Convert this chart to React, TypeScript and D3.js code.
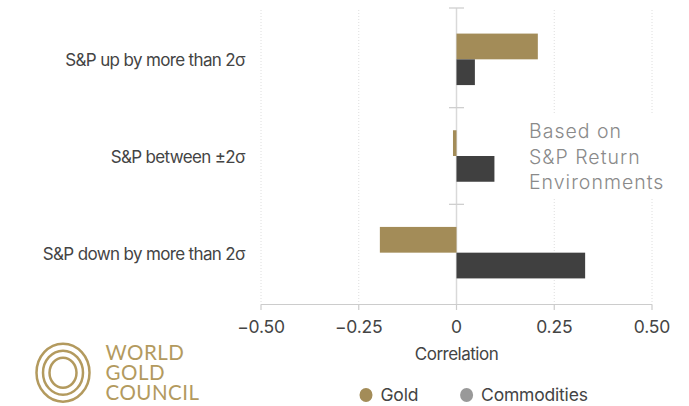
import React from "react";
import * as d3 from "d3";

const categories = ["S&P up by more than 2σ", "S&P between ±2σ", "S&P down by more than 2σ"];
const goldValues = [0.208, -0.009, -0.196];
const commodityValues = [0.047, 0.097, 0.329];
const xTicks = [-0.5, -0.25, 0, 0.25, 0.5];
const xTickLabels = ["−0.50", "−0.25", "0", "0.25", "0.50"];
const seriesNames = ["Gold", "Commodities"];
const annotationLines = ["Based on", "S&P Return", "Environments"];
const logoLines = ["WORLD", "GOLD", "COUNCIL"];

const W = 689;
const H = 406;
const GOLD = "#a38c58";
const DARK = "#404040";
const LEGEND_GRAY = "#999999";
const FONT = "Inter, Roboto, sans-serif";

export default function App() {
  const x = d3.scaleLinear().domain([-0.5, 0.5]).range([261, 652]);
  const y = d3.scaleBand<string>().domain(categories).range([11, 301]).paddingInner(0).paddingOuter(0);
  const inner = d3.scaleBand<string>().domain(seriesNames).range([0, 51.5]);
  const axisY = 304.5;
  const x0 = x(0);
  const series = [goldValues, commodityValues];
  const colors = [GOLD, DARK];

  return (
    <svg width={W} height={H} style={{ position: "absolute", left: 0, top: 0, background: "#fff" }}>
      {/* grid lines */}
      {xTicks.filter((t) => t !== 0).map((t) => (
        <line key={"g" + t} x1={x(t)} x2={x(t)} y1={10} y2={axisY} stroke="#dedede" strokeWidth={1} strokeDasharray="1,2" />
      ))}
      {/* annotation background */}
      <rect x={524} y={114} width={155} height={84} fill="#fff" />
      {annotationLines.map((s, i) => (
        <text key={s} x={529} y={137.7 + i * 25.8} fontFamily="Inter, 'Noto Sans', sans-serif" fontWeight={300} fontSize={19.5} letterSpacing={1} fill="#8a8a8a">
          {s}
        </text>
      ))}
      {/* zero line */}
      <line x1={x0} x2={x0} y1={8} y2={axisY} stroke="#d9d9d9" strokeWidth={1.5} />
      {/* category tick marks on zero line */}
      {[8, ...categories.slice(1).map((c) => y(c) as number)].map((v, i) => (
        <line key={"t" + i} x1={x0 - 7.5} x2={x0 + 7.5} y1={v} y2={v} stroke="#cfcfcf" strokeWidth={1.3} />
      ))}
      {/* bars */}
      {categories.map((c, ci) => {
        const gy = (y(c) as number) + (y.bandwidth() - 51.5) / 2;
        return series.map((vals, si) => {
          const v = vals[ci];
          const bx = Math.min(x(v), x0);
          const bw = Math.abs(x(v) - x0);
          return (
            <rect key={c + si} x={bx} y={gy + (inner(seriesNames[si]) as number)} width={bw} height={inner.bandwidth()} fill={colors[si]} />
          );
        });
      })}
      {/* category labels */}
      {categories.map((c) => (
        <text key={c} x={245} y={(y(c) as number) + y.bandwidth() / 2 + 1} dy="0.35em" textAnchor="end" fontFamily={FONT} fontSize={17} letterSpacing={-0.65} fill="#444">
          {c}
        </text>
      ))}
      {/* x axis */}
      <line x1={x(-0.5)} x2={x(0.5)} y1={axisY} y2={axisY} stroke="#cccccc" strokeWidth={1.2} />
      {xTicks.map((t, i) => (
        <g key={"xt" + t}>
          <line x1={x(t)} x2={x(t)} y1={axisY} y2={axisY + 5.5} stroke="#cccccc" strokeWidth={1.2} />
          <text x={x(t)} y={327} dy="0.35em" textAnchor="middle" fontFamily={FONT} fontSize={17.5} letterSpacing={-0.2} fill="#444">
            {xTickLabels[i]}
          </text>
        </g>
      ))}
      <text x={x0} y={354} dy="0.35em" textAnchor="middle" fontFamily={FONT} fontSize={17} letterSpacing={-0.5} fill="#444">
        Correlation
      </text>
      {/* legend */}
      {seriesNames.map((s, i) => {
        const cx = [366, 466.6][i];
        return (
          <g key={s}>
            <ellipse cx={cx} cy={395} rx={6.5} ry={7} fill={[GOLD, LEGEND_GRAY][i]} />
            <text x={cx + 14.5} y={395} dy="0.35em" fontFamily={FONT} fontSize={17.5} letterSpacing={-0.2} fill="#444">
              {s}
            </text>
          </g>
        );
      })}
      {/* logo */}
      <g stroke="#b39a5e" strokeWidth={2.5} fill="none">
        <ellipse cx={63} cy={372.7} rx={26.5} ry={29} />
        <ellipse cx={63} cy={372.7} rx={20} ry={22} />
        <ellipse cx={63} cy={372.7} rx={13.5} ry={15} />
      </g>
      {logoLines.map((s, i) => (
        <text key={s} x={105.5} y={359.5 + i * 20.3} fontFamily="Lato, sans-serif" fontWeight={400} fontSize={20.5} letterSpacing={0.5} fill="#b39a5e">
          {s}
        </text>
      ))}
    </svg>
  );
}
